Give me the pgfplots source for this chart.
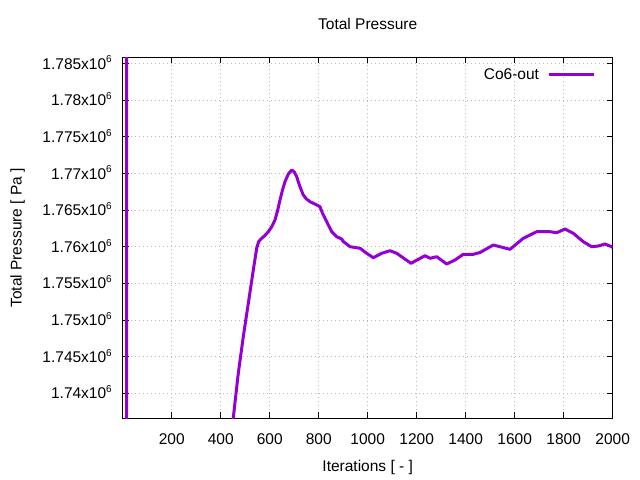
\documentclass[border=0pt]{standalone}
\usepackage{fontspec}
\setmainfont{Liberation Sans}
\usepackage{pgfplots}
\pgfplotsset{compat=1.18}
\definecolor{dv}{HTML}{9400D3}
\newcommand{\ytl}[1]{#1x10\raisebox{6.1bp}{\fontsize{10bp}{12bp}\selectfont 6}}
\begin{document}
\fontsize{15.5bp}{18bp}\selectfont
\begin{tikzpicture}
\useasboundingbox (0,0) rectangle (640bp,480bp);
\begin{axis}[
  at={(122.7bp,61.7bp)}, anchor=south west,
  scale only axis, width=490bp, height=361bp,
  xmin=0, xmax=2000, ymin=1736590, ymax=1785820,
  xtick={200,400,...,2000},
  xticklabels={200,400,600,800,1000,1200,1400,1600,1800,2000},
  ytick={1740000,1745000,1750000,1755000,1760000,1765000,1770000,1775000,1780000,1785000},
  yticklabels={\ytl{1.74},\ytl{1.745},\ytl{1.75},\ytl{1.755},\ytl{1.76},\ytl{1.765},\ytl{1.77},\ytl{1.775},\ytl{1.78},\ytl{1.785}},
  scaled y ticks=false,
  xticklabel style={inner sep=0pt, anchor=north, yshift=-15bp},
  yticklabel style={inner sep=0pt, anchor=base east, xshift=-10.7bp, yshift=-5.7bp},
  major tick length=6bp,
  tick style={black, line width=0.8bp},
  axis line style={black, line width=0.9bp},
  grid=major,
  major grid style={gray!55, line width=0.5bp, dash pattern=on 0.8bp off 3.2bp},
  title={Total Pressure},
  title style={at={(axis description cs:0.5,1.0604)}, anchor=base, inner sep=0pt},
  xlabel={Iterations [ - ]},
  xlabel style={at={(axis description cs:0.5,-0.1468)}, anchor=base, inner sep=0pt},
  ylabel={Total Pressure [ Pa ]},
  ylabel style={at={(axis description cs:-0.2147,0.5)}, anchor=center, inner sep=0pt},
  legend style={draw=none, fill=none, at={(axis description cs:1,1)}, anchor=north east,
    xshift=-17.7bp, yshift=-11.1bp, inner sep=0pt, outer sep=0pt,
    nodes={inner sep=0pt}, /tikz/every odd column/.append style={column sep=8bp}},
  legend plot pos=right,
  legend cell align=right,
  legend image code/.code={\draw[#1] (0bp,0bp) -- (45bp,0bp);},
]
\addplot[dv, line width=3bp, line join=round] coordinates {
(16,1800000) (16,1700000) (100,1700000) (300,1712000) (440,1733400)
(451.4,1736673) (471.8,1742727) (492.2,1747717) (512.7,1752272) (533.1,1756812)
(546.9,1759771) (555,1760700) (567.3,1761134) (580,1761500) (594.3,1762034) (608,1762700) (621.6,1763629) (632,1764900) (642.0,1766357)
(652,1767700) (662.4,1768852) (676,1769900) (689.8,1770447) (700,1770200) (710.2,1769534) (722,1768300) (737.1,1767038) (750,1766500) (764.5,1766125)
(785,1765800) (805.3,1765443) (815,1764600) (825.7,1763861) (840,1762900) (853.1,1762034) (873.5,1761352) (893.9,1761039)
(900.4,1760700) (928.2,1759989) (969,1759771) (995.9,1759089) (1022.9,1758489)
(1057.1,1759089) (1091,1759443) (1118.4,1759089) (1176.7,1757726) (1233.9,1758762)
(1254.3,1758407) (1281.6,1758625) (1322.4,1757630) (1356.3,1758176) (1390.2,1758953)
(1431,1758953) (1458.4,1759198) (1512.7,1760221) (1580.8,1759634) (1635.1,1761134)
(1689.8,1762034) (1744.1,1762034) (1771.4,1761898) (1805.3,1762402) (1839.2,1761816)
(1880,1760671) (1914.3,1759989) (1941.2,1760085) (1968.6,1760357) (1995.9,1759989)
(2000,1759900)
};
\addlegendentry{Co6-out}
\end{axis}
\end{tikzpicture}
\end{document}
